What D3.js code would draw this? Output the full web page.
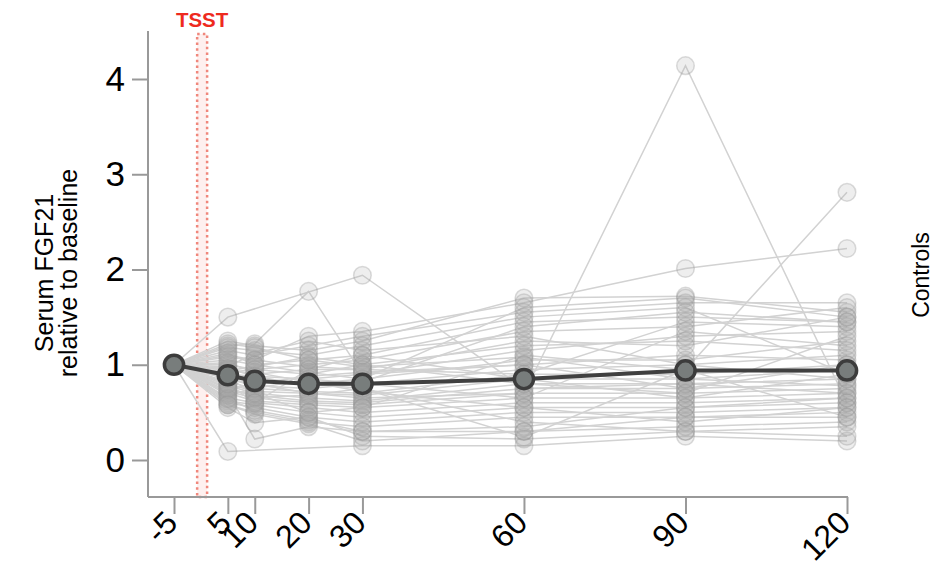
<!DOCTYPE html>
<html><head><meta charset="utf-8">
<script src="https://cdn.jsdelivr.net/npm/d3@7"></script>
<style>body{margin:0;background:#fff}svg{display:block}text{font-family:"Liberation Sans",Arial,sans-serif}</style>
</head><body>
<svg id="c" width="949" height="569"></svg>
<script>
const timePoints = [-5, 5, 10, 20, 30, 60, 90, 120];
const tickLabels = ["-5", "5", "10", "20", "30", "60", "90", "120"];
const yTicks = [0, 1, 2, 3, 4];
const tsstWindow = [-0.7, 1.15];
const meanValues = [1.0, 0.89, 0.83, 0.80, 0.80, 0.85, 0.94, 0.94];
// individual subjects: values at 5,10,20,30,60,90,120 (baseline -5 = 1)
const subjects = [
 [1.50, null, null, 1.94, 0.75, 0.80, 0.70],
 [0.09, null, null, 0.15, 0.15, 0.25, 0.20],
 [1.20, 1.22, 1.77, 0.90, 1.00, 1.10, 1.05],
 [0.85, 0.80, 0.70, 0.65, 0.70, 4.14, 0.60],
 [0.90, 0.85, 0.80, 0.75, 0.24, 0.95, 2.81],
 [1.10, 1.05, 1.30, 1.35, 1.65, 2.01, 2.22],
 [0.55, 0.39, 0.45, 0.25, 0.22, 0.30, 0.25],
 [0.70, 0.22, 0.35, 0.30, 0.30, 0.35, 0.40],
 [1.25, 1.20, 1.15, 1.25, 1.70, 1.72, 1.55],
 [1.15, 1.10, 1.20, 1.30, 1.55, 1.65, 1.65],
 [1.05, 1.00, 1.05, 1.10, 1.45, 1.50, 1.45],
 [1.00, 0.95, 1.00, 1.05, 1.35, 1.40, 1.60],
 [0.95, 0.90, 0.95, 0.95, 1.25, 1.20, 1.50],
 [0.90, 0.88, 0.85, 0.90, 1.15, 1.30, 1.35],
 [0.88, 0.82, 0.80, 0.85, 1.05, 1.05, 1.25],
 [0.85, 0.78, 0.75, 0.80, 0.95, 1.00, 1.10],
 [0.82, 0.75, 0.72, 0.70, 0.90, 0.90, 1.00],
 [0.80, 0.72, 0.70, 0.68, 0.85, 0.85, 0.95],
 [0.78, 0.70, 0.65, 0.62, 0.80, 0.80, 0.85],
 [0.75, 0.68, 0.62, 0.60, 0.75, 0.75, 0.80],
 [0.72, 0.65, 0.60, 0.58, 0.70, 0.70, 0.75],
 [0.70, 0.62, 0.58, 0.55, 0.65, 0.65, 0.70],
 [0.65, 0.60, 0.55, 0.50, 0.60, 0.60, 0.65],
 [0.62, 0.58, 0.50, 0.45, 0.55, 0.55, 0.60],
 [0.60, 0.55, 0.45, 0.40, 0.50, 0.50, 0.55],
 [0.58, 0.50, 0.40, 0.35, 0.45, 0.45, 0.50],
 [0.98, 1.12, 1.25, 1.15, 1.30, 1.00, 0.85],
 [1.18, 1.15, 1.10, 1.20, 1.50, 1.60, 0.90],
 [1.08, 1.05, 0.98, 0.95, 0.90, 1.45, 1.40],
 [0.92, 0.95, 0.90, 1.00, 0.80, 0.70, 1.30],
 [0.68, 0.75, 0.85, 0.80, 0.65, 1.35, 1.20],
 [1.02, 0.92, 0.82, 0.72, 0.55, 0.40, 0.55],
 [0.86, 0.70, 0.50, 0.55, 1.10, 0.95, 0.45],
 [0.94, 0.98, 1.08, 1.00, 1.20, 1.25, 1.15],
 [0.76, 0.66, 0.68, 0.75, 0.40, 0.30, 0.35],
 [0.64, 0.52, 0.42, 0.30, 0.35, 0.55, 0.65],
 [1.12, 1.00, 0.92, 0.85, 1.60, 1.70, 1.50],
 [0.96, 0.88, 0.78, 0.82, 1.40, 1.55, 1.45],
 [0.80, 0.60, 0.95, 1.10, 0.85, 0.65, 0.90],
 [0.74, 0.80, 0.88, 0.92, 1.00, 0.75, 1.00],
 [0.58, 0.48, 0.38, 0.20, 0.30, 0.45, 0.45],
 [1.22, 1.18, 1.05, 0.98, 1.08, 0.85, 0.78]
];

const svg = d3.select("#c");
const x = d3.scaleLinear().domain([-5, 120]).range([174, 847]);
const y = d3.scaleLinear().domain([0, 4]).range([460, 79]);
const axisY = 497, axisX = 148;

// TSST window
svg.append("rect")
  .attr("x", x(tsstWindow[0])).attr("y", 34)
  .attr("width", x(tsstWindow[1]) - x(tsstWindow[0])).attr("height", axisY - 34)
  .attr("fill", "rgba(245,140,130,0.13)").attr("stroke", "#f0877c")
  .attr("stroke-width", 2.5).attr("stroke-dasharray", "2.5,3.2");
svg.append("text").attr("x", (x(tsstWindow[0]) + x(tsstWindow[1])) / 2).attr("y", 27)
  .attr("text-anchor", "middle").attr("font-size", 20.5).attr("font-weight", "bold")
  .attr("fill", "#ee2a1e").text("TSST");

// axes
const gy = svg.append("g").attr("transform", `translate(${axisX},0)`)
  .call(d3.axisLeft(y).tickValues(yTicks).tickSize(16).tickPadding(7).tickFormat(d3.format("d")));
gy.select(".domain").remove();
gy.append("line").attr("x1", 0).attr("x2", 0).attr("y1", 31).attr("y2", axisY).attr("stroke", "#999").attr("stroke-width", 2);
gy.selectAll(".tick line").attr("stroke", "#999").attr("stroke-width", 2);
gy.selectAll(".tick text").attr("font-size", 35).attr("fill", "#000").attr("font-family", "Liberation Sans, Arial, sans-serif");

const gx = svg.append("g").attr("transform", `translate(0,${axisY})`)
  .call(d3.axisBottom(x).tickValues(timePoints).tickSize(17).tickFormat((d, i) => tickLabels[i]));
gx.select(".domain").remove();
gx.append("line").attr("x1", axisX).attr("x2", 848).attr("y1", 0).attr("y2", 0).attr("stroke", "#999").attr("stroke-width", 2);
gx.selectAll(".tick line").attr("stroke", "#999").attr("stroke-width", 2);
gx.selectAll(".tick text").attr("font-size", 32).attr("fill", "#000")
  .attr("font-family", "Liberation Sans, Arial, sans-serif")
  .attr("text-anchor", "end").attr("dy", null).attr("y", null)
  .attr("transform", "translate(-3,20) rotate(-45)").attr("dominant-baseline", "central");

// individual lines
const line = d3.line().x(d => x(d.t)).y(d => y(d.v));
const subjData = subjects.map(s => [{t: -5, v: 1}].concat(s.map((v, i) => ({t: timePoints[i + 1], v}))).filter(d => d.v !== null));
svg.append("g").selectAll("path").data(subjData).join("path")
  .attr("d", line).attr("fill", "none").attr("stroke", "#d2d2d2").attr("stroke-width", 1.5);
svg.append("g").selectAll("circle").data(subjData.flat()).join("circle")
  .attr("cx", d => x(d.t)).attr("cy", d => y(d.v)).attr("r", 8.8)
  .attr("fill", "rgba(170,170,170,0.2)").attr("stroke", "rgba(150,150,150,0.33)").attr("stroke-width", 1.5);

// mean
const meanData = meanValues.map((v, i) => ({t: timePoints[i], v}));
svg.append("path").datum(meanData).attr("d", line).attr("fill", "none").attr("stroke", "#404040").attr("stroke-width", 4);
svg.append("g").selectAll("circle").data(meanData).join("circle")
  .attr("cx", d => x(d.t)).attr("cy", d => y(d.v)).attr("r", 9.6)
  .attr("fill", "#787d7c").attr("stroke", "#3c3c3c").attr("stroke-width", 3.5);

// labels
const yl = svg.append("text").attr("transform", "translate(53,273) rotate(-90)")
  .attr("text-anchor", "middle").attr("font-size", 25).attr("fill", "#000");
yl.append("tspan").attr("x", 0).attr("dy", 0).text("Serum FGF21");
yl.append("tspan").attr("x", 0).attr("dy", 24).text("relative to baseline");
svg.append("text").attr("transform", "translate(929,275) rotate(-90)")
  .attr("text-anchor", "middle").attr("font-size", 23).attr("fill", "#000").text("Controls");
</script>
</body></html>
